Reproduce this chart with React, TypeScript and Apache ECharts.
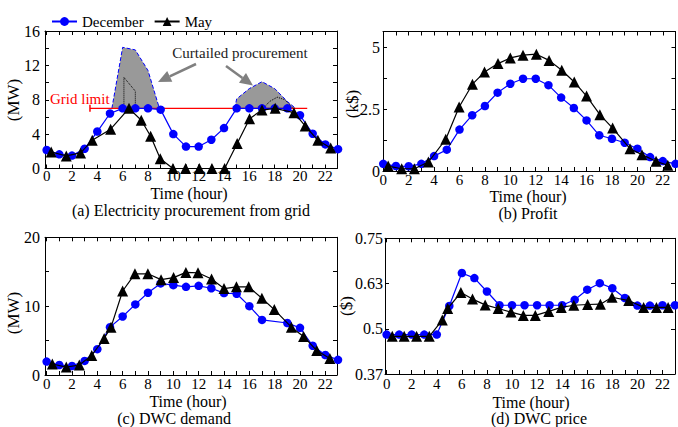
import React, { useEffect, useRef } from "react";
import * as echarts from "echarts";

// ---------- data ----------
const hours = [0, 1, 2, 3, 4, 5, 6, 7, 8, 9, 10, 11, 12, 13, 14, 15, 16, 17, 18, 19, 20, 21, 22, 23];
const xTickLabels = [0, 2, 4, 6, 8, 10, 12, 14, 16, 18, 20, 22];
const xTicks = [0, 1, 2, 3, 4, 5, 6, 7, 8, 9, 10, 11, 12, 13, 14, 15, 16, 17, 18, 19, 20, 21, 22];

// (a) Electricity procurement from grid (MW)
const decGrid = [2.15, 1.65, 1.5, 2.3, 4.3, 6.4, 7.0, 7.0, 7.0, 6.85, 4.0, 2.55, 2.55, 3.35, 4.7, 7.0, 7.0, 7.0, 7.0, 7.0, 6.2, 4.05, 2.8, 2.25];
const mayGridHours = [0.36, 1.55, 2.68, 3.6, 5.05, 6.5, 7.47, 8.21, 8.97, 9.97, 10.97, 12.05, 13.05, 14.05, 15.04, 16.02, 17.0, 18.04, 19.52, 20.41, 21.41, 22.42];
const mayGrid = [1.92, 1.46, 1.81, 3.28, 4.57, 7.0, 5.62, 3.75, 1.14, 0, 0, 0, 0, 0, 2.9, 5.8, 6.8, 7.0, 6.5, 4.95, 3.28, 2.39];
const gridLimit = 7;
const gridLimitHours = [3.42, 20.57];
const curt1Hours = [5.15, 6.0, 7.0, 8.0, 8.9];
const curt1 = [7.0, 14.1, 13.8, 11.4, 7.0];
const curt2Hours = [14.85, 15.0, 16.0, 17.0, 18.0, 19.0, 19.65];
const curt2 = [7.0, 8.1, 9.3, 10.1, 9.3, 7.8, 7.0];
const mayUnc1Hours = [6.1, 6.1, 7.0, 7.0];
const mayUnc1 = [7.0, 10.6, 9.0, 7.0];
const mayUnc2Hours = [17.1, 17.6, 18.2, 18.8, 19.45];
const mayUnc2 = [7.0, 7.8, 8.3, 8.0, 7.0];
const gridTicksLabels = [0, 4, 8, 12, 16];
const gridTicks = [2, 4, 6, 8, 10, 12, 14];

// (b) Profit (k$)
const decProfit = [0.29, 0.2, 0.19, 0.29, 0.6, 0.86, 1.67, 2.25, 2.62, 3.16, 3.52, 3.72, 3.72, 3.46, 2.96, 2.54, 2.04, 1.44, 1.3, 1.14, 0.9, 0.56, 0.4, 0.29];
const mayProfitHours = [0.39, 1.45, 2.45, 3.55, 4.92, 5.97, 7.02, 7.97, 9.03, 10.0, 11.0, 12.05, 13.05, 14.05, 15.03, 16.0, 17.05, 18.05, 19.42, 20.36, 21.47, 22.39];
const mayProfit = [0.2, 0.09, 0.09, 0.36, 1.28, 2.58, 3.5, 3.99, 4.33, 4.56, 4.67, 4.71, 4.46, 4.06, 3.59, 3.02, 2.27, 1.73, 0.9, 0.66, 0.39, 0.23];
const profitLabels = [0, 2.5, 5];
const profitTicks = [1.25, 2.5, 3.75, 5];

// (c) DWC demand (MW)
const decDemandHours = [0, 1, 2, 3, 4, 5, 6, 7, 8, 9, 10, 11, 12, 13, 14, 15, 16, 17, 19, 20, 21, 22, 23];
const decDemand = [1.95, 1.45, 1.3, 2.05, 3.75, 6.95, 8.5, 10.25, 11.95, 13.3, 13.05, 12.8, 12.95, 12.6, 11.9, 11.8, 10.0, 8.0, 7.55, 6.85, 4.25, 2.9, 2.2];
const mayDemandHours = [0.45, 1.55, 2.58, 3.56, 4.54, 5.08, 6.0, 6.97, 7.99, 9.03, 10.02, 10.99, 11.95, 13.02, 14.0, 14.98, 15.95, 16.99, 17.97, 19.32, 20.28, 21.32, 22.36];
const mayDemand = [1.6, 1.15, 1.45, 2.85, 5.3, 6.95, 12.2, 14.7, 14.7, 13.85, 14.15, 14.9, 14.85, 13.95, 12.55, 12.8, 12.8, 11.15, 9.5, 6.95, 5.6, 3.55, 2.4];
const demandLabels = [0, 10, 20];
const demandTicks = [5, 10, 15];

// (d) DWC price ($)
const decPrice = [0.484, 0.484, 0.484, 0.484, 0.484, 0.563, 0.654, 0.64, 0.603, 0.565, 0.565, 0.565, 0.565, 0.565, 0.565, 0.58, 0.608, 0.626, 0.612, 0.585, 0.564, 0.564, 0.565, 0.565];
const mayPriceHours = [0.45, 1.4, 2.39, 3.4, 4.44, 4.87, 5.92, 6.85, 7.86, 8.9, 9.92, 10.9, 11.86, 12.93, 13.93, 14.93, 16.03, 17.05, 17.98, 19.31, 20.5, 21.52, 22.45];
const mayPrice = [0.479, 0.479, 0.479, 0.479, 0.524, 0.556, 0.6, 0.582, 0.566, 0.556, 0.546, 0.537, 0.537, 0.548, 0.559, 0.565, 0.567, 0.568, 0.587, 0.578, 0.559, 0.559, 0.559];
const priceLabelValues = [0.375, 0.5, 0.625, 0.75];
const priceLabelTexts = ["0.37", "0.5", "0.63", "0.75"];
const priceTicks = [0.5, 0.625];

// ---------- layout / style ----------
const FONT = '"Liberation Serif", "Times New Roman", Times, serif';
const BLUE = "#0000ff";
const BLACK = "#000000";

const zip = (xs: number[], ys: number[]) => xs.map((x, i) => [x, ys[i]]);

const grids = [
  { left: 45, top: 31, width: 292, height: 137.5 },
  { left: 383, top: 31.5, width: 292.5, height: 139.5 },
  { left: 45, top: 237.3, width: 292, height: 137.7 },
  { left: 385, top: 238.3, width: 290, height: 135.7 },
];
const xRanges = [
  [-0.13, 22.92],
  [-0.02, 23.0],
  [-0.13, 22.92],
  [-0.13, 23.0],
];
const yRanges = [
  [0, 16],
  [0, 5.625],
  [0, 20],
  [0.375, 0.75],
];
const yLabelVals = [gridTicksLabels, profitLabels, demandLabels, priceLabelValues];
const yTickVals = [gridTicks, profitTicks, demandTicks, priceTicks];
const yLabelMargins = [5, 3, 5, 2];
const xLabelMargins = [0, 1, 1, 2];

function buildOption() {
  const xAxis: any[] = [];
  const yAxis: any[] = [];
  for (let i = 0; i < 4; i++) {
    const common = {
      type: "value",
      gridIndex: i,
      min: xRanges[i][0],
      max: xRanges[i][1],
      splitLine: { show: false },
      axisLine: { show: true, onZero: false, lineStyle: { color: BLACK, width: 1 } },
      axisTick: { show: true, inside: true, length: 4, customValues: xTicks, lineStyle: { color: BLACK, width: 1 } },
    };
    xAxis.push({
      ...common,
      position: "bottom",
      axisLabel: { show: true, customValues: xTickLabels, margin: xLabelMargins[i], fontFamily: FONT, fontSize: 15, color: BLACK },
    });
    xAxis.push({ ...common, position: "top", axisLabel: { show: false } });

    const ycommon = {
      type: "value",
      gridIndex: i,
      min: yRanges[i][0],
      max: yRanges[i][1],
      splitLine: { show: false },
      axisLine: { show: true, onZero: false, lineStyle: { color: BLACK, width: 1 } },
      axisTick: { show: true, inside: true, length: 4, customValues: yTickVals[i], lineStyle: { color: BLACK, width: 1 } },
    };
    yAxis.push({
      ...ycommon,
      position: "left",
      axisLabel: {
        show: true,
        customValues: yLabelVals[i],
        margin: yLabelMargins[i],
        fontFamily: FONT,
        fontSize: 16,
        color: BLACK,
        formatter:
          i === 3
            ? (v: number) => {
                const k = priceLabelValues.findIndex((p) => Math.abs(p - v) < 1e-6);
                return k >= 0 ? priceLabelTexts[k] : "";
              }
            : undefined,
      },
    });
    yAxis.push({ ...ycommon, position: "right", axisLabel: { show: false } });
  }

  const dec = (i: number, data: number[][]) => ({
    type: "line",
    name: "December",
    xAxisIndex: 2 * i,
    yAxisIndex: 2 * i,
    data,
    clip: false,
    symbol: "circle",
    symbolSize: 8.5,
    showSymbol: true,
    itemStyle: { color: BLUE },
    lineStyle: { color: BLUE, width: 1.2 },
    z: 3,
  });
  const may = (i: number, data: number[][]) => ({
    type: "line",
    name: "May",
    xAxisIndex: 2 * i,
    yAxisIndex: 2 * i,
    data,
    clip: false,
    symbol: "triangle",
    symbolSize: 11,
    showSymbol: true,
    itemStyle: { color: BLACK },
    lineStyle: { color: BLACK, width: 1.2 },
    z: 4,
  });
  const curtail = (data: number[][]) => ({
    type: "line",
    name: "curtailed",
    xAxisIndex: 0,
    yAxisIndex: 0,
    data,
    symbol: "none",
    lineStyle: { color: BLUE, width: 1, type: "dashed" },
    areaStyle: { color: "#999999", opacity: 1, origin: gridLimit },
    z: 1,
  });
  const dotted = (data: number[][]) => ({
    type: "line",
    name: "mayUnconstrained",
    xAxisIndex: 0,
    yAxisIndex: 0,
    data,
    symbol: "none",
    lineStyle: { color: BLACK, width: 1, type: "dotted" },
    z: 2,
  });

  const series: any[] = [
    curtail(zip(curt1Hours, curt1)),
    curtail(zip(curt2Hours, curt2)),
    dotted(zip(mayUnc1Hours, mayUnc1)),
    dotted(zip(mayUnc2Hours, mayUnc2)),
    {
      type: "line",
      name: "gridLimit",
      xAxisIndex: 0,
      yAxisIndex: 0,
      data: [
        { value: [gridLimitHours[0], gridLimit], symbol: "rect", symbolSize: [1.5, 7] },
        { value: [gridLimitHours[1], gridLimit], symbol: "none" },
      ],
      showSymbol: true,
      itemStyle: { color: "#ff0000" },
      lineStyle: { color: "#ff0000", width: 1.3 },
      z: 2,
    },
    dec(0, zip(hours, decGrid)),
    may(0, zip(mayGridHours, mayGrid)),
    dec(1, zip(hours, decProfit)),
    may(1, zip(mayProfitHours, mayProfit)),
    dec(2, zip(decDemandHours, decDemand)),
    may(2, zip(mayDemandHours, mayDemand)),
    dec(3, zip(hours, decPrice)),
    may(3, zip(mayPriceHours, mayPrice)),
  ];

  const txt = (text: string, x: number, y: number, size: number, extra: any = {}, fill = BLACK, align = "center") => ({
    type: "text",
    x,
    y,
    ...extra,
    style: { text, fontFamily: FONT, fontSize: size, fill, align, verticalAlign: "middle" },
    z: 10,
  });
  const rot = { rotation: Math.PI / 2 };

  const arrow = (tx: number, ty: number, hx: number, hy: number) => {
    const dx = hx - tx;
    const dy = hy - ty;
    const len = Math.sqrt(dx * dx + dy * dy);
    const ux = dx / len;
    const uy = dy / len;
    const hl = 13;
    const hw = 6;
    const bx = hx - ux * hl;
    const by = hy - uy * hl;
    const nx = -uy;
    const ny = ux;
    return [
      { type: "line", shape: { x1: tx, y1: ty, x2: bx, y2: by }, style: { stroke: "#808080", lineWidth: 2.5 }, z: 10 },
      {
        type: "polygon",
        shape: { points: [[hx, hy], [bx + nx * hw, by + ny * hw], [bx - nx * hw, by - ny * hw]] },
        style: { fill: "#808080" },
        z: 10,
      },
    ];
  };

  const graphic: any[] = [
    txt("Curtailed procurement", 240, 53, 15, {}, "#222222"),
    ...arrow(196, 64, 158, 82),
    ...arrow(226, 66, 253, 85.5),
    txt("Grid limit", 50, 99, 15, {}, "#ff0000", "left"),
    txt("(MW)", 13, 100, 17, rot),
    txt("(k$)", 352, 104, 17, rot),
    txt("(MW)", 13, 313, 17, rot),
    txt("($)", 346, 306, 17, rot),
    txt("Time (hour)", 189, 193, 16),
    txt("(a) Electricity procurement from grid", 191, 210, 16),
    txt("Time (hour)", 528, 196, 16),
    txt("(b) Profit", 528, 213.5, 16),
    txt("Time (hour)", 188, 401.5, 16),
    txt("(c) DWC demand", 174, 418.5, 16),
    txt("Time (hour)", 531, 402, 16),
    txt("(d) DWC price", 539, 418.5, 16),
  ];

  return {
    animation: false,
    backgroundColor: "#ffffff",
    grid: grids.map((g) => ({ ...g, containLabel: false })),
    xAxis,
    yAxis,
    legend: {
      data: ["December", "May"],
      left: 46,
      top: 9,
      itemWidth: 25,
      itemHeight: 11,
      itemGap: 10,
      textStyle: { fontFamily: FONT, fontSize: 15, color: BLACK },
      selectedMode: false,
    },
    series,
    graphic,
  };
}

export default function App() {
  const ref = useRef<HTMLDivElement | null>(null);
  useEffect(() => {
    if (!ref.current) return;
    const chart = echarts.init(ref.current, undefined, { renderer: "svg" });
    chart.setOption(buildOption() as any);
    return () => chart.dispose();
  }, []);
  return <div ref={ref} style={{ position: "absolute", left: 0, top: 0, width: 678, height: 427 }} />;
}
